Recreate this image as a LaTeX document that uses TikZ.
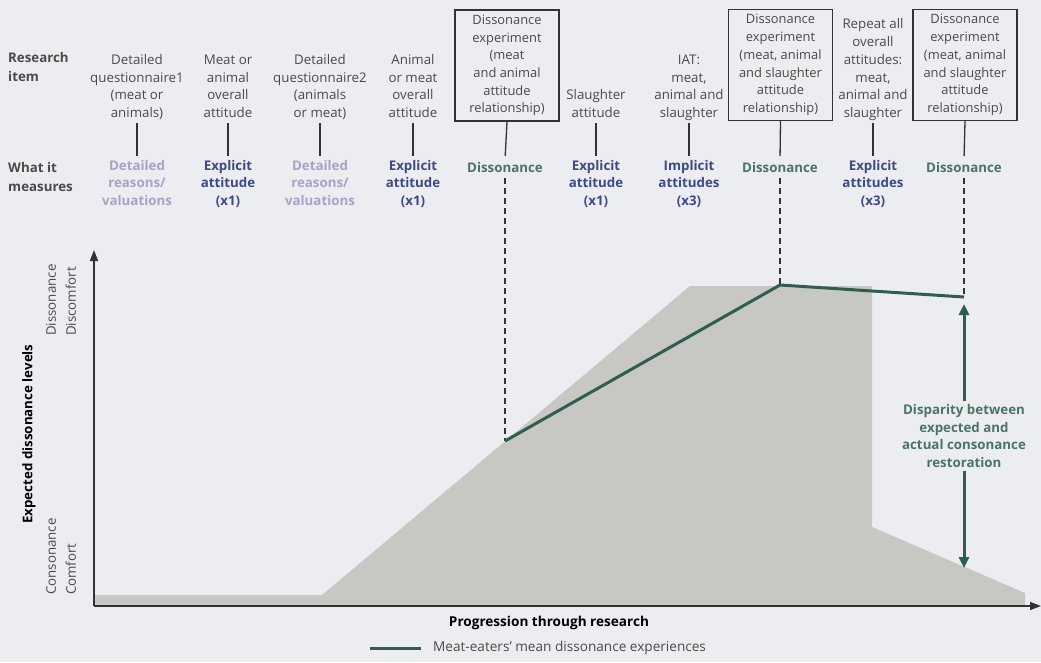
\documentclass[tikz,border=0pt]{standalone}
\usepackage{fontspec}
\setmainfont{Open Sans}
\usetikzlibrary{arrows.meta}
\definecolor{bg}{HTML}{ECEDF1}
\definecolor{itemtxt}{HTML}{4A4A4A}
\definecolor{reasons}{HTML}{A6A4C4}
\definecolor{explicit}{HTML}{3E4A84}
\definecolor{disso}{HTML}{4A7464}
\definecolor{gline}{HTML}{2F5E4E}
\definecolor{area}{HTML}{C7C7C4}
\definecolor{axis}{HTML}{333333}
\begin{document}
\begin{tikzpicture}[x=1pt,y=-1pt,
  txt/.style={font=\fontsize{13.3}{17.7}\selectfont, align=center, inner sep=0pt},
  item/.style={txt, text=itemtxt, anchor=south, execute at end node=\strut},
  itembox/.style={txt, font=\fontsize{12.9}{17.7}\selectfont, text=itemtxt, draw=axis, line width=1.4pt,
    minimum width=104pt, minimum height=111pt, execute at begin node={\rule{0pt}{17pt}}},
  meas/.style={txt, font=\fontsize{13.3}{17.6}\selectfont\bfseries, anchor=north, execute at begin node=\strut},
  tick/.style={draw=axis, line width=1.3pt},
  guide/.style={draw=axis, line width=1.3pt, dash pattern=on 6pt off 4pt},
  axisline/.style={draw=axis, line width=1.5pt, -{Triangle[length=11pt,width=8pt]}},
  mean/.style={draw=gline, line width=3pt, line join=round},
  gap/.style={draw=gline, line width=3pt, -{Triangle[length=11pt,width=10pt]}},
  rowlabel/.style={txt, font=\fontsize{13.3}{18.5}\selectfont\bfseries, text=itemtxt, align=left, anchor=west}]
\fill[bg] (0,0) rectangle (1041,662);
\useasboundingbox (0,0) rectangle (1041,662);

% row labels
\node[rowlabel] (lab1) at (8,67) {Research\\item};
\node[rowlabel] (lab2) at (8,177) {What it\\measures};

% research items
\node[item] (i1) at (137,123) {Detailed\\questionnaire1\\(meat or\\animals)};
\node[item] (i2) at (228,123) {Meat or\\animal\\overall\\attitude};
\node[item] (i3) at (320,123) {Detailed\\questionnaire2\\(animals\\or meat)};
\node[item] (i4) at (413,123) {Animal\\or meat\\overall\\attitude};
\node[itembox] (i5) at (507,65.5) {Dissonance\\experiment\\(meat\\and animal\\attitude\\relationship)};
\node[item] (i6) at (596,123) {Slaughter\\attitude};
\node[item] (i7) at (689,123) {IAT:\\meat,\\animal and\\slaughter};
\node[itembox] (i8) at (780.5,65) {Dissonance\\experiment\\(meat, animal\\and slaughter\\attitude\\relationship)};
\node[item] (i9) at (873,123) {Repeat all\\overall\\attitudes:\\meat,\\animal and\\slaughter};
\node[itembox] (i10) at (965,65) {Dissonance\\experiment\\(meat, animal\\and slaughter\\attitude\\relationship)};

% what each item measures
\node[meas, text=reasons] (m1) at (137,160) {Detailed\\reasons/\\valuations};
\node[meas, text=explicit] (m2) at (228,160) {Explicit\\attitude\\(x1)};
\node[meas, text=reasons] (m3) at (320,160) {Detailed\\reasons/\\valuations};
\node[meas, text=explicit] (m4) at (413,160) {Explicit\\attitude\\(x1)};
\node[meas, text=disso] (m5) at (505,160) {Dissonance};
\node[meas, text=explicit] (m6) at (596,160) {Explicit\\attitude\\(x1)};
\node[meas, text=explicit] (m7) at (689,160) {Implicit\\attitudes\\(x3)};
\node[meas, text=disso] (m8) at (780,160) {Dissonance};
\node[meas, text=explicit] (m9) at (873,160) {Explicit\\attitudes\\(x3)};
\node[meas, text=disso] (m10) at (964,160) {Dissonance};

\foreach \k in {1,...,10} {
  \draw[tick, shorten >=4pt] (i\k.south) -- (m\k.north);
}

% expected dissonance area
\fill[area] (95,595) -- (322,595) -- (690,286) -- (872,286) -- (872,527)
  -- (1025,593) -- (1025,605) -- (95,605) -- cycle;

% axes
\coordinate (origin) at (94,606);
\coordinate (ytop) at (94,250);
\coordinate (xend) at (1041,606);
\draw[axisline] (origin) -- (ytop);
\draw[axisline] (origin) -- (xend);

% mean dissonance line
\coordinate (g1) at (505,441);
\coordinate (g2) at (780,285);
\coordinate (g3) at (964,297);
\draw[guide] (m5.south) -- (g1);
\draw[guide] (m8.south) -- (g2);
\draw[guide] (m10.south) -- (g3);
\draw[mean] (g1) -- (g2) -- (g3);

% disparity annotation
\node[txt, font=\fontsize{13.3}{17.8}\selectfont\bfseries, text=disso, inner sep=3pt] (disp) at (964,436)
  {Disparity between\\expected and\\actual consonance\\restoration};
\coordinate (gapTop) at (964,304);
\coordinate (gapBot) at (964,568);
\draw[gap] (disp.north) -- (gapTop);
\draw[gap] (disp.south) -- (gapBot);

% axis labels
\node[txt, font=\fontsize{13.3}{14}\selectfont\bfseries, text=black, rotate=90] (ylab) at (29,434) {Expected dissonance levels};
\node[txt, font=\fontsize{13.3}{20}\selectfont, text=itemtxt, align=left, rotate=90, anchor=west] (yhi) at (61,336) {Dissonance\\Discomfort};
\node[txt, font=\fontsize{13.3}{20}\selectfont, text=itemtxt, align=left, rotate=90, anchor=west] (ylo) at (61,595) {Consonance\\Comfort};
\node[txt, font=\fontsize{13.6}{14}\selectfont\bfseries, text=black] (xlab) at (549,623) {Progression through research};

% legend
\node[txt, font=\fontsize{13.6}{14}\selectfont, text=itemtxt, anchor=west] (legtxt) at (433,648) {Meat-eaters' mean dissonance experiences};
\coordinate (legA) at (370,648);
\draw[mean] (legA) -- ([xshift=-12pt]legtxt.west);
\end{tikzpicture}
\end{document}
